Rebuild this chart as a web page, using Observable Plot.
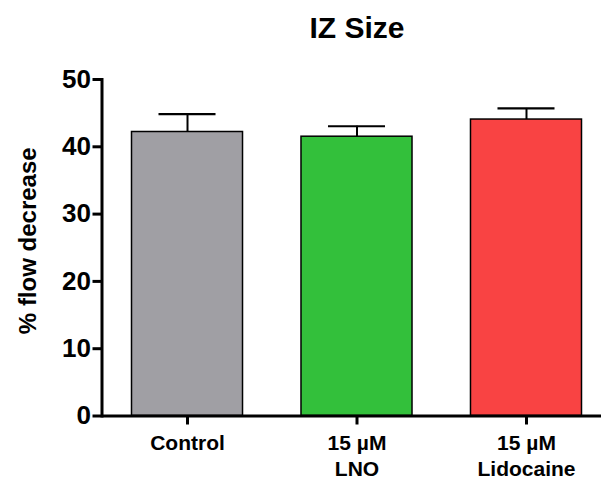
<!DOCTYPE html>
<html><head><meta charset="utf-8">
<script src="https://cdn.jsdelivr.net/npm/d3@7"></script>
<script src="https://cdn.jsdelivr.net/npm/@observablehq/plot@0.6"></script>
<style>
body{margin:0;background:#fff;}
#title{height:37px;padding-top:13px;padding-left:113px;width:488px;text-align:center;font:bold 30px/30px "Liberation Sans",Arial,sans-serif;color:#000;}
</style></head><body>
<div id="chart"><div id="title">IZ Size</div></div>
<script>
const categories = ["Control", "15 µM\nLNO", "15 µM\nLidocaine"];
const means = [42.2, 41.5, 44.05];
const sems = [2.65, 1.55, 1.65];
const colors = ["#a09fa4", "#33c03b", "#f94343"];
const yTicks = [0, 10, 20, 30, 40, 50];
const yLabel = "% flow decrease";

const data = categories.map((c, i) => ({category: c, mean: means[i], upper: means[i] + sems[i], color: colors[i]}));

const plot = Plot.plot({
  width: 601, height: 429,
  marginTop: 29, marginBottom: 63.5, marginLeft: 101.5, marginRight: 0,
  style: {fontFamily: '"Liberation Sans", Arial, sans-serif', fontWeight: "bold", color: "black", background: "white", overflow: "visible"},
  x: {domain: categories, range: [101.5, 611.5], paddingInner: 0.345, paddingOuter: 0.177, align: 0.5, round: false, axis: null},
  y: {domain: [0, 50], axis: null},
  color: {type: "identity"},
  marks: [
    Plot.barY(data, {x: "category", y: "mean", fill: "color", stroke: "black", strokeWidth: 1.5}),
    Plot.ruleX(data, {x: "category", y1: "mean", y2: "upper", stroke: "black", strokeWidth: 2}),
    Plot.tickY(data, {x: "category", y: "upper", stroke: "black", strokeWidth: 2.2, insetLeft: 27, insetRight: 27}),
    Plot.ruleY([0], {stroke: "black", strokeWidth: 3}),
    Plot.frame({anchor: "left", stroke: "black", strokeWidth: 3}),
    Plot.axisY({ticks: yTicks, tickSize: 9, tickPadding: 2, fontSize: 26, strokeWidth: 3, label: null}),
    Plot.axisX({tickSize: 9, tickPadding: 6, fontSize: 21, strokeWidth: 3, label: null, lineHeight: 1.24}),
    Plot.text([yLabel], {frameAnchor: "left", textAnchor: "middle", rotate: -90, fontSize: 24, dx: -66.5, dy: -7, lineAnchor: "bottom"})
  ]
});
document.getElementById("chart").appendChild(plot);
</script>
</body></html>
